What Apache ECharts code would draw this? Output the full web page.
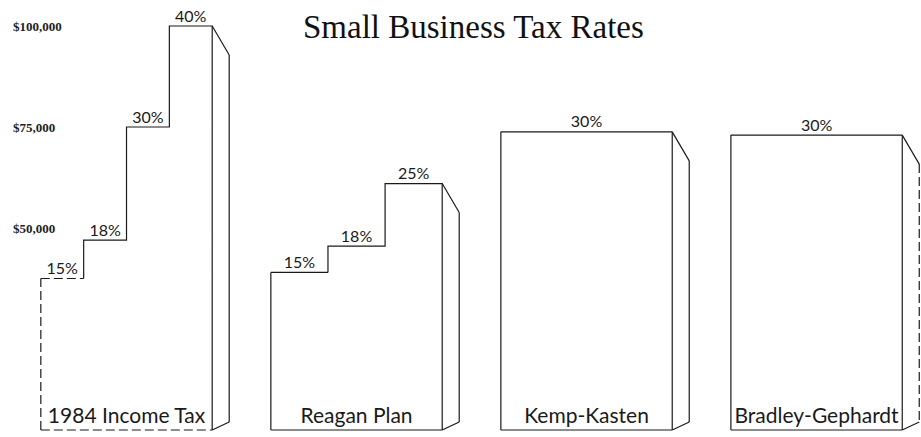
<!DOCTYPE html>
<html>
<head>
<meta charset="utf-8">
<script src="https://cdn.jsdelivr.net/npm/echarts@6/dist/echarts.min.js"></script>
<style>
  html, body { margin: 0; padding: 0; background: #fff; }
  #chart { width: 921px; height: 437px; }
</style>
</head>
<body>
<div id="chart"></div>
<script>
// Plans compared, left to right
const plans = ['1984 Income Tax', 'Reagan Plan', 'Kemp-Kasten', 'Bradley-Gephardt'];

// Top of each income bracket (dollars) and the rate charged in it, per plan
const bracketTops1984 = [37500, 47000, 75000, 100000];
const rates1984 = [15, 18, 30, 40];
const bracketTopsReagan = [39000, 45500, 61000];
const ratesReagan = [15, 18, 25];
const bracketTopsKemp = [73800];
const ratesKemp = [30];
const bracketTopsBradley = [73000];
const ratesBradley = [30];

// Income axis ticks
const yTickValues = [50000, 75000, 100000];
const yTickLabels = ['$50,000', '$75,000', '$100,000'];

const bracketTops = [bracketTops1984, bracketTopsReagan, bracketTopsKemp, bracketTopsBradley];
const rates = [rates1984, ratesReagan, ratesKemp, ratesBradley];

const INK = '#1a1a1a';
const LABEL_FONT = 'Lato, "Liberation Sans", sans-serif';
// edges drawn broken on particular boxes
const dashedEdges = { 0: ['left', 'bottom', 'firstStep'], 3: ['back'] };

function renderBox(params, api) {
  const i = params.dataIndex;
  const tops = bracketTops[i];
  const rs = rates[i];
  const center = api.coord([i, 0]);
  const unit = api.size([1, 0])[0];
  const frontW = unit * 0.745;
  const xl = center[0] - frontW / 2;
  const xr = center[0] + frontW / 2;
  const base = center[1];
  const stepW = frontW / tops.length;
  const dx = 17, dy = 29, rise = 8;
  const dashes = dashedEdges[i] || [];
  const solid = { stroke: INK, lineWidth: 1.2, fill: null };
  const dashed = { stroke: INK, lineWidth: 1.2, fill: null, lineDash: [9, 4] };
  const styleFor = name => (dashes.includes(name) ? dashed : solid);

  const children = [];
  const ys = tops.map(t => api.coord([i, t])[1]);

  // first step top
  children.push({ type: 'line', shape: { x1: xl, y1: ys[0], x2: xl + stepW, y2: ys[0] },
    style: styleFor('firstStep'), silent: true });

  // remaining staircase and front right edge
  const stair = [[xl + stepW, ys[0]]];
  for (let k = 1; k < tops.length; k++) {
    const x0 = xl + stepW * k;
    stair.push([x0, ys[k]]);
    stair.push([x0 + stepW, ys[k]]);
  }
  stair.push([xr, base]);
  children.push({ type: 'polyline', shape: { points: stair }, style: solid, silent: true });

  // left and bottom front edges
  children.push({ type: 'line', shape: { x1: xl, y1: base, x2: xl, y2: ys[0] },
    style: styleFor('left'), silent: true });
  children.push({ type: 'line', shape: { x1: xl, y1: base, x2: xr, y2: base },
    style: styleFor('bottom'), silent: true });

  // side face
  const yTop = ys[ys.length - 1];
  children.push({ type: 'line', shape: { x1: xr, y1: yTop, x2: xr + dx, y2: yTop + dy }, style: solid, silent: true });
  children.push({ type: 'line', shape: { x1: xr + dx, y1: yTop + dy, x2: xr + dx, y2: base - rise },
    style: styleFor('back'), silent: true });
  children.push({ type: 'line', shape: { x1: xr + dx, y1: base - rise, x2: xr, y2: base }, style: solid, silent: true });

  // rate above each step
  for (let k = 0; k < tops.length; k++) {
    children.push({
      type: 'text', silent: true,
      style: {
        x: xl + stepW * (k + 0.5), y: ys[k] - 3,
        text: rs[k] + '%', fill: INK,
        font: '16px ' + LABEL_FONT,
        textAlign: 'center', textVerticalAlign: 'bottom'
      }
    });
  }

  // plan name inside the front face
  children.push({
    type: 'text', silent: true,
    style: {
      x: (xl + xr) / 2, y: base - 5,
      text: plans[i], fill: INK,
      font: '21px ' + LABEL_FONT,
      textAlign: 'center', textVerticalAlign: 'bottom'
    }
  });

  return { type: 'group', children };
}

const chart = echarts.init(document.getElementById('chart'), null, { renderer: 'svg' });
chart.setOption({
  animation: false,
  backgroundColor: '#fff',
  title: {
    text: 'Small Business Tax Rates',
    left: 298, top: 5,
    textStyle: { fontFamily: '"Liberation Serif", serif', fontWeight: 'normal', fontSize: 33, color: '#111' }
  },
  grid: { left: 0, right: 0, top: 26, bottom: 7 },
  xAxis: {
    type: 'value', min: -0.55, max: 3.454, show: false
  },
  yAxis: {
    type: 'value', min: 0, max: 100000, interval: 25000,
    axisLine: { show: false }, axisTick: { show: false }, splitLine: { show: false },
    axisLabel: {
      inside: true, margin: 13, align: 'left',
      fontFamily: '"Liberation Serif", serif', fontWeight: 'bold', fontSize: 13, color: '#222',
      formatter: v => {
        const idx = yTickValues.indexOf(v);
        return idx >= 0 ? yTickLabels[idx] : '';
      }
    }
  },
  series: [{
    type: 'custom',
    renderItem: renderBox,
    data: plans.map((p, i) => [i]),
    encode: { x: 0 },
    clip: false
  }]
});
</script>
</body>
</html>
